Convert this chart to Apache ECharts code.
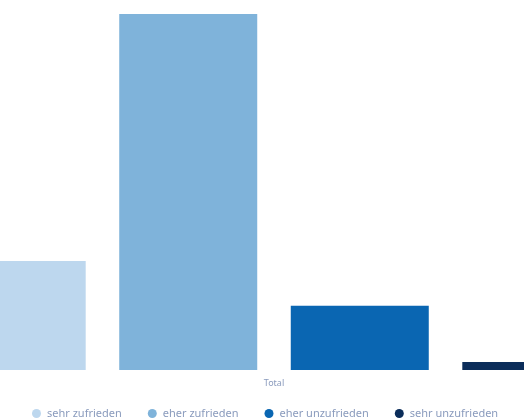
<!DOCTYPE html>
<html><head><meta charset="utf-8">
<script src="https://cdn.jsdelivr.net/npm/echarts@6/dist/echarts.min.js"></script>
<style>html,body{margin:0;padding:0;background:#fff}#c{width:524px;height:420px}</style>
</head><body><div id="c"></div>
<script>
const categories = ['Total'];
const seriesNames = ['sehr zufrieden', 'eher zufrieden', 'eher unzufrieden', 'sehr unzufrieden'];
const seriesValues = [[20.2], [66], [11.9], [1.5]];
const colors = ['#bdd7ee', '#7fb3da', '#0a66b2', '#0b2d5a'];

const chart = echarts.init(document.getElementById('c'), null, {renderer: 'canvas'});
chart.setOption({
  animation: false,
  color: colors,
  grid: {left: -52, width: 652, top: 14, bottom: 50, containLabel: false, outerBoundsMode: 'none'},
  legend: {
    data: seriesNames,
    left: 32, top: 408, padding: 0,
    icon: 'circle', itemWidth: 9, itemHeight: 9, itemGap: 26,
    textStyle: {color: '#8a9bbd', fontSize: 11, fontFamily: 'Noto Sans', padding: [0,0,0,1]}
  },
  xAxis: {
    type: 'category', data: categories,
    axisLine: {show: false}, axisTick: {show: false},
    axisLabel: {color: '#8a9bbd', fontSize: 9, fontFamily: 'Noto Sans', margin: 9}
  },
  yAxis: {type: 'value', min: 0, max: 66, show: false, splitLine: {show: false}},
  series: seriesNames.map((n, i) => ({
    name: n, type: 'bar', data: seriesValues[i],
    barWidth: 138, barGap: '24.3%'
  }))
});
</script></body></html>
